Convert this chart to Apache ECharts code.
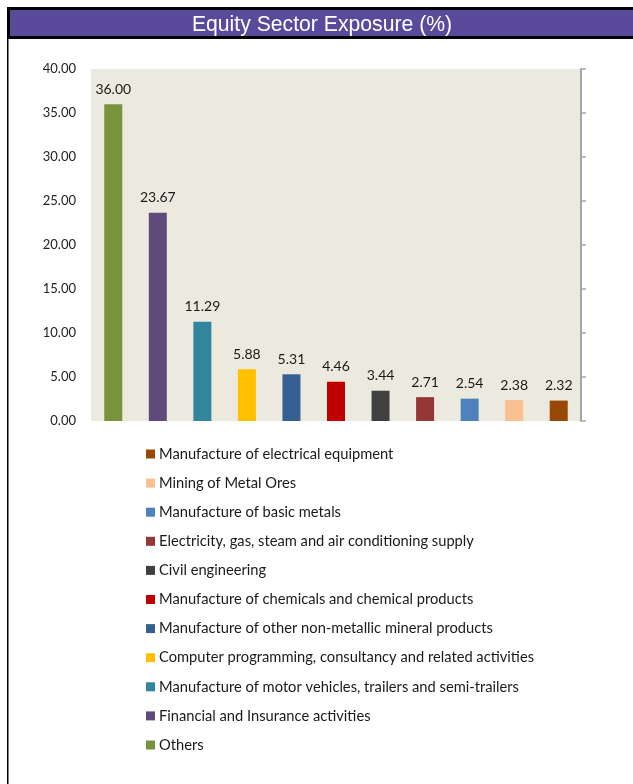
<!DOCTYPE html>
<html>
<head>
<meta charset="utf-8">
<script src="https://cdn.jsdelivr.net/npm/echarts@6/dist/echarts.min.js"></script>
<style>
html,body{margin:0;padding:0;background:#fff;}
#chart{width:633px;height:784px;}
</style>
</head>
<body>
<div id="chart"></div>
<script>
var categories = [
  'Others',
  'Financial and Insurance activities',
  'Manufacture of motor vehicles, trailers and semi-trailers',
  'Computer programming, consultancy and related activities',
  'Manufacture of other non-metallic mineral products',
  'Manufacture of chemicals and chemical products',
  'Civil engineering',
  'Electricity, gas, steam and air conditioning supply',
  'Manufacture of basic metals',
  'Mining of Metal Ores',
  'Manufacture of electrical equipment'
];
var values = [36.00, 23.67, 11.29, 5.88, 5.31, 4.46, 3.44, 2.71, 2.54, 2.38, 2.32];
var colors = ['#77933C', '#604A7B', '#31859C', '#FFC000', '#376092', '#C00000', '#404040', '#953735', '#4F81BD', '#FAC090', '#984807'];
var yTicks = [0, 5, 10, 15, 20, 25, 30, 35, 40];

var series = categories.map(function (name, i) {
  return {
    name: name,
    type: 'bar',
    stack: 'all',
    barWidth: 18,
    itemStyle: { color: colors[i] },
    label: {
      show: true,
      position: 'top',
      distance: 8,
      fontFamily: 'Lato',
      fontSize: 14,
      color: '#1a1a1a',
      formatter: function (p) { return Number(p.value).toFixed(2); }
    },
    data: categories.map(function (c, j) { return j === i ? values[i] : '-'; })
  };
});

var chart = echarts.init(document.getElementById('chart'), null, { renderer: 'canvas' });
chart.setOption({
  animation: false,
  backgroundColor: '#ffffff',
  graphic: [
    { type: 'rect', shape: { x: 7, y: 7, width: 626, height: 32 }, style: { fill: '#000000' }, silent: true },
    { type: 'rect', shape: { x: 10, y: 10, width: 623, height: 26 }, style: { fill: '#5A4A9B' }, silent: true },
    { type: 'rect', shape: { x: 7, y: 39, width: 1.5, height: 745 }, style: { fill: '#000000' }, silent: true },
    { type: 'text', x: 322, y: 25, style: { text: 'Equity Sector Exposure (%)', fill: '#ffffff', font: '21.2px "Liberation Sans", Arial, sans-serif', textAlign: 'center', textVerticalAlign: 'middle' }, silent: true }
  ],
  grid: {
    left: 91, right: 52, top: 69, height: 352,
    show: true, backgroundColor: '#ECE9DF', borderWidth: 0
  },
  legend: {
    orient: 'vertical',
    left: 146,
    top: 446,
    padding: 0,
    itemWidth: 9,
    itemHeight: 9,
    itemGap: 13.1,
    icon: 'rect',
    data: categories.slice().reverse(),
    textStyle: { fontFamily: 'Lato', fontSize: 14.7, color: '#1a1a1a', lineHeight: 16, padding: [0, 0, 0, -1] }
  },
  xAxis: {
    type: 'category',
    data: categories,
    axisLine: { show: false },
    axisTick: { show: false },
    axisLabel: { show: false },
    splitLine: { show: false }
  },
  yAxis: [
    {
      type: 'value',
      min: yTicks[0], max: yTicks[yTicks.length - 1], interval: 5,
      position: 'left',
      axisLine: { show: false },
      axisTick: { show: false },
      splitLine: { show: false },
      axisLabel: {
        margin: 15,
        fontFamily: 'Lato', fontSize: 13, color: '#222',
        formatter: function (v) { return v.toFixed(2); }
      }
    },
    {
      type: 'value',
      min: yTicks[0], max: yTicks[yTicks.length - 1], interval: 5,
      position: 'right',
      axisLine: { show: true, lineStyle: { color: '#A6A6A6', width: 2 } },
      axisTick: { show: true, inside: false, length: 5, lineStyle: { color: '#A6A6A6', width: 1.5 } },
      axisLabel: { show: false },
      splitLine: { show: false }
    }
  ],
  series: series
});
</script>
</body>
</html>
